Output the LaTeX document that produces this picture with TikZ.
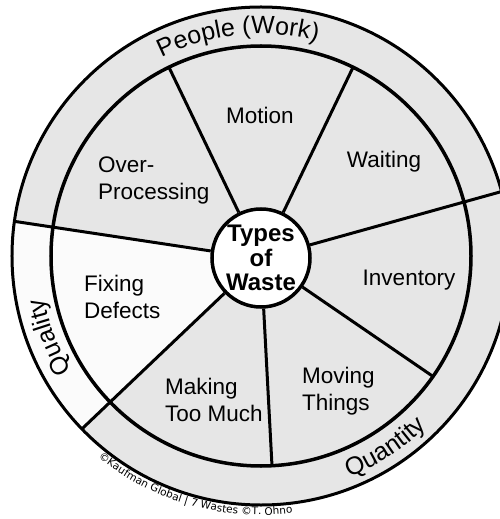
\documentclass[tikz,border=0pt]{standalone}
\usepackage{fontspec}
\setmainfont{Liberation Sans}
\newfontfamily\copyfamily{DejaVu Sans}
\usetikzlibrary{decorations.text}
\definecolor{wastegray}{RGB}{230,230,230}
\definecolor{wastelight}{RGB}{251,251,251}
\newcommand\ringfont{\fontsize{25}{25}\selectfont}
\newcommand\copyfont{\copyfamily\fontsize{10.5}{10.5}\selectfont}
\begin{document}
\begin{tikzpicture}[x=1pt, y=1pt,
  waste/.style = {inner sep=0, align=left, font=\fontsize{22.5}{27}\selectfont},
  hub/.style = {draw, circle, fill=white, line width=3.5pt, minimum size=98pt, inner sep=0, align=center, font=\fontsize{24}{24.5}\selectfont\bfseries},
  spoke/.style = {line width=3pt},
  ringtext/.style = {decorate, decoration={text along path, text align=center, text={#1}}}]
\useasboundingbox (-261,-263) rectangle (239,256);
\fill[wastegray] (0,0) circle[radius=249];
\fill[wastelight] (0,0) -- (172:249) arc[start angle=172, end angle=224, radius=249] -- cycle;
\draw[line width=3.5pt] (0,0) circle[radius=210];
\draw[line width=3pt] (0,0) circle[radius=249];
\node[hub] (types) at (0,-2) {Types\\of\\Waste};
\draw[spoke] (types.116) -- (116:210);
\draw[spoke] (types.64) -- (64:210);
\draw[spoke] (types.15) -- (15:249);
\draw[spoke] (types.325) -- (325:210);
\draw[spoke] (types.273) -- (273:210);
\draw[spoke] (types.224) -- (224:249);
\draw[spoke] (types.172) -- (172:249);
\node[waste] (motion) at (-1,141) {Motion};
\node[waste] (waiting) at (123,94) {Waiting};
\node[waste, anchor=north west] (overproc) at (-163,99) {Over-\\Processing};
\node[waste] (inventory) at (148,-24) {Inventory};
\node[waste, anchor=north west] (fixing) at (-177,-19) {Fixing\\Defects};
\node[waste, anchor=north west] (making) at (-96,-122) {Making\\Too Much};
\node[waste, anchor=north west] (moving) at (41,-111) {Moving\\Things};
\path[ringtext={|\ringfont|People (Work)}] (136:222) arc[start angle=136, end angle=56, radius=222];
\path[ringtext={|\ringfont|Quality}] (231:221) arc[start angle=231, end angle=171, radius=221];
\path[ringtext={|\ringfont|Quantity}] (-87:238) arc[start angle=-87, end angle=-27, radius=238];
\path[ringtext={|\copyfont|©Kaufman Global {\textbar} 7 Wastes ©T. Ohno}] (224:259) arc[start angle=224, end angle=284, radius=259];
\end{tikzpicture}
\end{document}
